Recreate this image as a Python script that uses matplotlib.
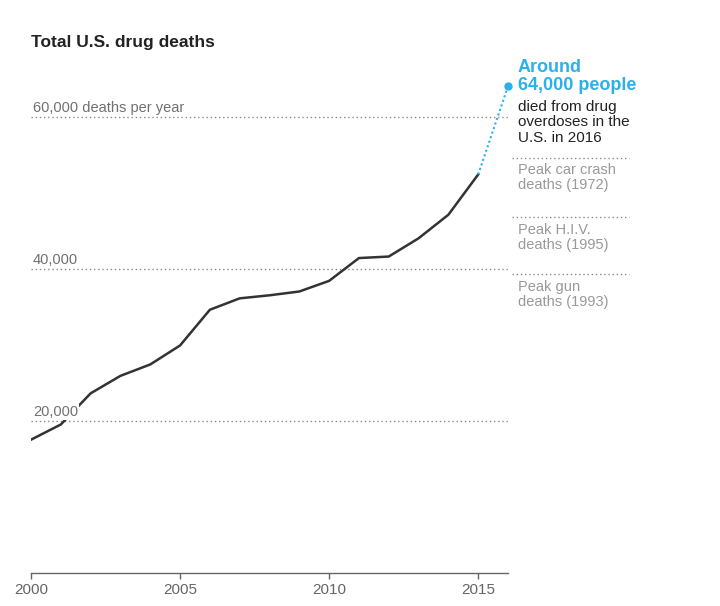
import matplotlib
matplotlib.use('Agg')
import matplotlib.pyplot as plt

# ---- data ----
years = list(range(2000, 2016))
deaths = [17500, 19500, 23600, 25900, 27400, 29900, 34600, 36100,
          36500, 37000, 38400, 41400, 41600, 44000, 47100, 52400]
year_2016 = 2016
deaths_2016 = 64000
grid_values = [20000, 40000, 60000]
grid_labels = ['20,000', '40,000', '60,000 deaths per year']
xticks = [2000, 2005, 2010, 2015]
xtick_labels = ['2000', '2005', '2010', '2015']
peak_values = [54600, 46800, 39300]
peak_labels = ['Peak car crash\ndeaths (1972)', 'Peak H.I.V.\ndeaths (1995)', 'Peak gun\ndeaths (1993)']
blue_lines = ['Around', '64,000 people']
black_lines = ['died from drug', 'overdoses in the', 'U.S. in 2016']
title = 'Total U.S. drug deaths'

plt.rcParams['font.family'] = ['Liberation Sans', 'DejaVu Sans']

W, H = 720, 606
BLUE = '#2bb0ea'
fig = plt.figure(figsize=(W / 100, H / 100), dpi=100)

x0_px, x1_px = 31, 508
y0_px = 572.7
px_per_unit = 152 / 20000
ymax = 66000
top_px = y0_px - ymax * px_per_unit
ax = fig.add_axes([x0_px / W, (H - y0_px) / H, (x1_px - x0_px) / W, (y0_px - top_px) / H])
ax.set_xlim(2000, 2016)
ax.set_ylim(0, ymax)

# grid lines + labels
ax.hlines(grid_values, 2000, 2016, colors='#8a8a8a', linestyles=(0, (1, 2)), lw=1, zorder=1)
for v, lab in zip(grid_values, grid_labels):
    ax.annotate(lab, xy=(2000, v), xytext=(2, 5), textcoords='offset pixels',
                ha='left', va='baseline', fontsize=10.5, color='#707070', zorder=4,
                bbox=dict(facecolor='white', edgecolor='none', pad=0.6))

# main line
ax.plot(years, deaths, color='#333333', lw=1.8, solid_joinstyle='round', zorder=3)
ax.plot([years[-1], year_2016], [deaths[-1], deaths_2016], color=BLUE,
        ls=(0, (1, 1.3)), lw=1.5, zorder=3, clip_on=False)
ax.plot([year_2016], [deaths_2016], 'o', ms=5, color=BLUE, zorder=5, clip_on=False)

# axes styling
for s in ['top', 'right', 'left']:
    ax.spines[s].set_visible(False)
ax.spines['bottom'].set_color('#666666')
ax.spines['bottom'].set_linewidth(1)
ax.set_yticks([])
ax.set_xticks(xticks)
ax.set_xticklabels(xtick_labels)
ax.tick_params(axis='x', length=4.3, width=1, color='#666666', labelcolor='#666666',
               labelsize=11, pad=3)

# peak reference lines on the right
for v, lab in zip(peak_values, peak_labels):
    ax.plot([2016.15, 2020.05], [v, v], color='#8a8a8a', ls=(0, (1, 2)), lw=1, clip_on=False)
    for i, line in enumerate(lab.split('\n')):
        ax.annotate(line, xy=(2016, v), xytext=(10, -16.7 - 15 * i), textcoords='offset pixels',
                    ha='left', va='baseline', fontsize=10.5, color='#999999', annotation_clip=False)

# annotation text
blue_base = [71.7, 89.5]
for line, b in zip(blue_lines, blue_base):
    fig.text(518 / W, 1 - b / H, line, fontsize=13, weight='bold', color=BLUE,
             ha='left', va='baseline')
black_base = [110.5, 126.5, 142]
for line, b in zip(black_lines, black_base):
    fig.text(518 / W, 1 - b / H, line, fontsize=11, color='#222222', ha='left', va='baseline')

fig.text(31 / W, 1 - 47 / H, title, fontsize=12.5, weight='bold', color='#222222',
         ha='left', va='baseline')

fig.savefig('out.png', dpi=100, facecolor='white')
